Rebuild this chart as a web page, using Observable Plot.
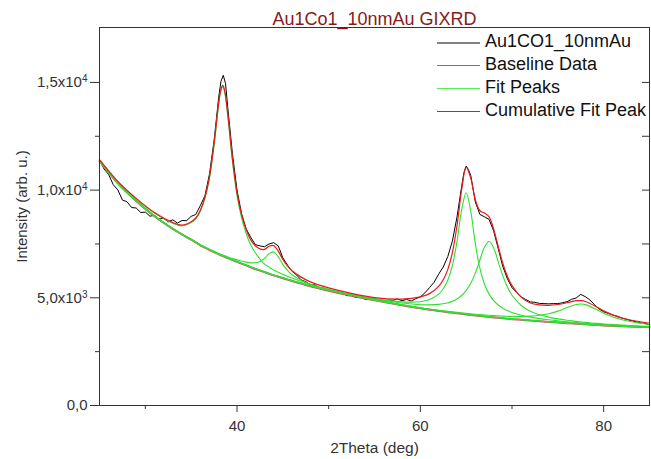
<!DOCTYPE html>
<html>
<head>
<meta charset="utf-8">
<script src="https://cdn.jsdelivr.net/npm/d3@7"></script>
<script src="https://cdn.jsdelivr.net/npm/@observablehq/plot@0.6"></script>
<style>
  body { margin: 0; background: #fff; }
  #wrap { position: relative; width: 651px; height: 459px; overflow: hidden; font-family: "Liberation Sans", Arial, sans-serif; }
  #legend { position: absolute; left: 437px; top: 30px; font-size: 18px; color: #111; white-space: nowrap; }
  .row { position: relative; height: 23px; line-height: 23px; padding-left: 48px; }
  .sw { position: absolute; left: 0; top: 12px; width: 43px; height: 0; border-top: 1px solid #888; }
</style>
</head>
<body>
<div id="wrap">
  <div id="chart"></div>
  <div id="legend"></div>
</div>
<script>
// ---- texts ----
const titleText = "Au1Co1_10nmAu GIXRD";
const xLabel = "2Theta (deg)";
const yLabel = "Intensity (arb. u.)";
const legendLabels = ["Au1CO1_10nmAu", "Baseline Data", "Fit Peaks", "Cumulative Fit Peak"];
const legendColors = ["#808080", "#e0407a", "#55ee55", "#e41a1a"];

// ---- ticks ----
const xMajorTicks = [40, 60, 80];
const xMinorTicks = [30, 50, 70];
const yMajorTicks = [0, 5000, 10000, 15000];
const yMajorLabels = ["0,0", "5,0x10^3", "1,0x10^4", "1,5x10^4"];
const yMinorTicks = [2500, 7500, 12500];
const yRightTicks = [2500, 5000, 7500, 10000, 12500, 15000];

// ---- measured data (black) ----
const dataX = [25,25.5,26,26.5,27,27.5,28,28.5,29,29.5,30,30.5,31,31.5,32,32.5,33,33.5,34,34.5,35,35.5,36,36.5,37,37.5,38,38.25,38.5,38.75,39,39.5,40,40.5,41,41.5,42,42.5,43,43.5,44,44.5,45,45.5,46,46.5,47,47.5,48,48.5,49,49.5,50,50.5,51,51.5,52,52.5,53,53.5,54,54.5,55,55.5,56,56.5,57,57.5,58,58.5,59,59.5,60,60.5,61,61.5,62,62.5,63,63.5,64,64.5,64.75,65,65.25,65.5,66,66.5,67,67.5,68,68.5,69,69.5,70,70.5,71,71.5,72,72.5,73,73.5,74,74.5,75,75.5,76,76.5,77,77.5,78,78.5,79,79.5,80,80.5,81,81.5,82,82.5,83,83.5,84,84.5,85];
const dataY = [11380,10980,10720,10250,10010,9540,9460,9190,9170,8960,8980,8790,8830,8660,8690,8530,8620,8470,8590,8580,8780,8870,9280,9730,10750,12300,14300,15050,15330,14950,13800,11700,10000,8900,8200,7810,7470,7410,7370,7500,7560,7410,6860,6520,6230,6060,5830,5750,5610,5600,5460,5450,5340,5330,5220,5210,5100,5100,5010,5020,4930,4950,4880,4900,4850,4890,4880,4950,4860,4930,4850,4960,5040,5230,5470,5720,6100,6430,6920,7640,8750,10150,10800,11120,10950,10680,9450,8870,8760,8640,8100,7280,6450,5880,5470,5250,5040,4920,4810,4790,4740,4730,4720,4730,4730,4770,4820,4930,4990,5160,5050,4900,4680,4480,4350,4280,4200,4140,4060,4000,3940,3890,3830,3810,3750];

// ---- fit curves (read on a common 2Theta grid) ----
const fitX = [25,27,29,31,33,34,35,35.5,36,36.5,37,37.5,38,38.25,38.45,38.65,39,39.5,40,40.5,41,41.5,42,42.5,43,43.5,44,44.5,45,45.5,46,47,48,50,52,55,58,60,61,62,62.5,63,63.5,64,64.5,65,65.5,66,66.5,67,67.5,68,68.5,69,69.5,70,71,72,73,74,75,76,77,77.6,78,79,80,82,85];
const baselineY = [11350,10320,9500,8790,8200,7940,7700,7570,7440,7330,7220,7120,7020,6975,6940,6905,6840,6755,6670,6590,6505,6420,6340,6265,6190,6115,6040,5975,5910,5845,5780,5660,5540,5330,5140,4880,4650,4510,4450,4390,4360,4330,4305,4280,4255,4230,4205,4180,4158,4135,4112,4090,4070,4050,4030,4010,3977,3943,3910,3880,3850,3823,3797,3780,3770,3745,3720,3684,3630];
const peak1Y = [11400,10385,9592,8930,8460,8340,8490,8660,9020,9620,10570,12100,13970,14625,14790,14555,13420,11355,9760,8710,7985,7450,7090,6805,6565,6425,6290,6190,6090,6005,5915,5770,5630,5395,5190,4915,4675,4532,4470,4408,4377,4346,4321,4295,4270,4245,4219,4194,4171,4148,4125,4103,4082,4062,4042,4022,3988,3954,3920,3890,3860,3832,3806,3789,3778,3753,3727,3690,3635];
const peak2Y = [11354,10325,9507,8799,8213,7955,7719,7591,7464,7357,7251,7156,7062,7020,6989,6957,6899,6827,6760,6705,6655,6624,6628,6690,6833,7044,7130,6904,6553,6270,6068,5810,5630,5372,5164,4893,4658,4516,4455,4394,4364,4334,4308,4283,4258,4233,4208,4183,4161,4138,4115,4093,4072,4052,4032,4012,3979,3945,3912,3882,3852,3825,3799,3782,3771,3746,3721,3685,3631];
const peak3Y = [11355,10326,9506,8797,8208,7948,7709,7579,7449,7340,7230,7130,7031,6986,6951,6916,6852,6767,6683,6603,6519,6434,6355,6281,6207,6132,6058,5994,5930,5866,5802,5685,5568,5366,5188,4960,4811,4818,4917,5169,5418,5825,6510,7615,9069,9880,9019,7515,6363,5630,5170,4869,4665,4517,4405,4318,4194,4104,4034,3979,3930,3889,3853,3831,3818,3786,3756,3712,3650];
const peak4Y = [11356,10326,9507,8798,8208,7949,7710,7580,7450,7340,7231,7131,7032,6987,6952,6917,6852,6768,6683,6604,6519,6435,6355,6281,6207,6133,6059,5995,5931,5866,5802,5684,5566,5363,5182,4944,4759,4681,4674,4695,4723,4767,4841,4948,5106,5337,5673,6148,6758,7356,7612,7311,6670,6018,5498,5117,4645,4380,4215,4104,4021,3958,3906,3876,3860,3820,3784,3731,3663];
const peak5Y = [11353,10323,9504,8794,8204,7944,7704,7574,7444,7335,7225,7125,7025,6980,6945,6910,6846,6761,6676,6596,6511,6426,6347,6272,6197,6122,6047,5983,5918,5853,5788,5669,5549,5341,5153,4896,4671,4536,4479,4423,4395,4368,4345,4323,4301,4280,4259,4238,4221,4204,4187,4173,4161,4151,4142,4135,4136,4150,4188,4261,4381,4547,4691,4710,4684,4508,4287,3979,3761];
const cumulativeY = [11418,10405,9616,8958,8493,8376,8533,8705,9069,9672,10627,12162,14039,14697,14867,14635,13508,11457,9881,8858,8169,7689,7415,7269,7249,7396,7424,7165,6782,6480,6255,5960,5740,5460,5250,5010,4940,5043,5195,5529,5837,6320,7106,8344,9984,11055,10558,9558,9043,8936,8761,8189,7371,6600,5999,5564,5034,4761,4670,4650,4690,4770,4866,4866,4831,4633,4395,4061,3820];

// ---- tables for the library ----
const dataRows = dataX.map((x, i) => ({x, y: dataY[i]}));
const fitRows = ys => fitX.map((x, i) => ({x, y: ys[i]}));
const peakSeries = [peak1Y, peak2Y, peak3Y, peak4Y, peak5Y];

const font = "Liberation Sans, Arial, sans-serif";
const chart = Plot.plot({
  width: 651,
  height: 459,
  marginLeft: 99,
  marginRight: 2,
  marginTop: 27,
  marginBottom: 54,
  x: {domain: [25, 85], label: null},
  y: {domain: [0, 17550], label: null},
  style: {fontFamily: font, fontSize: "15px", color: "#333", background: "#fff"},
  marks: [
    Plot.axisX(xMajorTicks, {tickSize: 7, tickPadding: 8, fontSize: 15, label: null, tickFormat: d => String(d)}),
    Plot.axisX(xMinorTicks, {tickSize: 4, text: null, label: null}),
    Plot.axisY(yMajorTicks, {tickSize: 9, tickPadding: 3, fontSize: 15, label: null,
      tickFormat: d => yMajorLabels[yMajorTicks.indexOf(d)]}),
    Plot.axisY(yMinorTicks, {tickSize: 4, text: null, label: null}),
    Plot.axisY(yRightTicks, {anchor: "right", tickSize: 8, dx: -8, text: null, label: null}),
    Plot.line(dataRows, {x: "x", y: "y", stroke: "#000", strokeWidth: 1}),
    Plot.line(fitRows(baselineY), {x: "x", y: "y", stroke: "#e0407a", strokeWidth: 2, curve: "catmull-rom"}),
    ...peakSeries.map(ys => Plot.line(fitRows(ys), {x: "x", y: "y", stroke: "#2ee02e", strokeWidth: 1.1, curve: "catmull-rom"})),
    Plot.line(fitRows(cumulativeY), {x: "x", y: "y", stroke: "#e8191e", strokeWidth: 1.2, curve: "catmull-rom"}),
    Plot.frame({stroke: "#333", strokeWidth: 1}),
    Plot.text([titleText], {frameAnchor: "top", dy: -8, lineAnchor: "middle", fill: "#861b1b", fontSize: 18}),
    Plot.text([xLabel], {frameAnchor: "bottom", dy: 43, lineAnchor: "middle", textAnchor: "middle", fill: "#333", fontSize: 15.5}),
    Plot.text([yLabel], {frameAnchor: "left", dx: -77, dy: -10, rotate: -90, lineAnchor: "middle", textAnchor: "middle", fill: "#333", fontSize: 15})
  ]
});

// superscripts for the exponent tick labels
const ns = "http://www.w3.org/2000/svg";
chart.querySelectorAll("text").forEach(t => {
  const m = t.textContent.match(/^(.*)\^(\d)$/);
  if (m) {
    t.textContent = m[1];
    const ts = document.createElementNS(ns, "tspan");
    ts.setAttribute("dy", "-0.5em");
    ts.setAttribute("font-size", "10");
    ts.textContent = m[2];
    t.appendChild(ts);
  }
});
document.getElementById("chart").appendChild(chart);

// legend
const legend = document.getElementById("legend");
legendLabels.forEach((lab, i) => {
  const row = document.createElement("div");
  row.className = "row";
  const sw = document.createElement("div");
  sw.className = "sw";
  sw.style.borderTopColor = legendColors[i];
  sw.style.borderTopWidth = (i === 0 ? 2 : 1) + "px";
  row.appendChild(sw);
  row.appendChild(document.createTextNode(lab));
  legend.appendChild(row);
});
</script>
</body>
</html>
